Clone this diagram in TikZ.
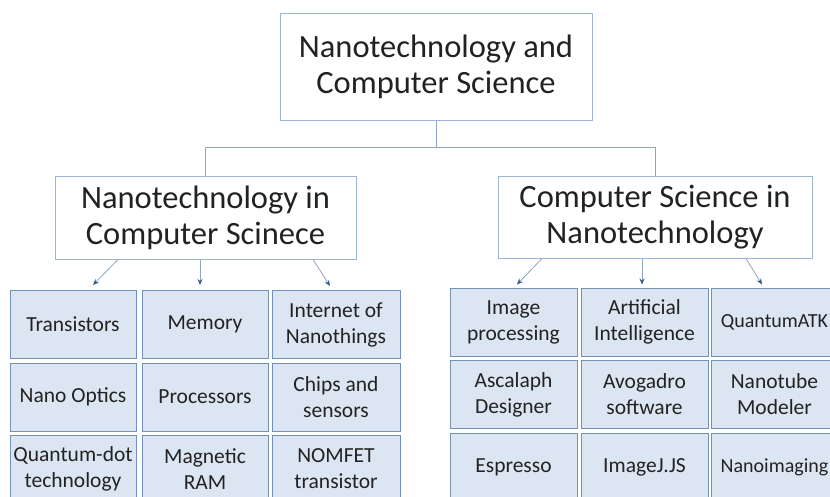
\documentclass[tikz,border=0pt]{standalone}
\usepackage{fontspec}
\setmainfont{Carlito}
\usetikzlibrary{arrows.meta,positioning}

\definecolor{cellfill}{HTML}{DCE6F2}
\definecolor{celledge}{HTML}{7391B5}
\definecolor{headedge}{HTML}{9CB6D4}
\definecolor{linkgray}{HTML}{8FA5BF}
\definecolor{tipblue}{HTML}{2F5F8F}
\definecolor{ink}{HTML}{222222}

\tikzset{
  heading/.style={draw=headedge, line width=1pt, fill=white, text=ink, align=center,
    font=\fontsize{32.5}{36}\selectfont, inner sep=0pt},
  cell/.style={draw=celledge, line width=1pt, fill=cellfill, text=ink, align=center,
    font=\fontsize{21.5}{26}\selectfont, inner sep=0pt, minimum width=126pt, minimum height=68pt},
  edgecell/.style={cell, minimum width=127pt, font=\fontsize{20}{26}\selectfont},
  link/.style={draw=linkgray, line width=1pt},
  feed/.style={draw=linkgray, line width=0.8pt, -{Stealth[length=6pt,width=5pt,color=tipblue]}}
}

\begin{document}
\begin{tikzpicture}[x=1pt,y=-1pt]

	\useasboundingbox (0,0) rectangle (830,496);
	\clip (0,0) rectangle (830,496);
	\fill[white] (0,0) rectangle (830,496);

	% Headings
	\node[heading, minimum width=312pt, minimum height=107pt] (top) at (436,66.5) {Nanotechnology and\\Computer Science};
	\node[heading, minimum width=301pt, minimum height=83pt] (lhead) at (205.5,217.5) {Nanotechnology in\\Computer Scinece};
	\node[heading, minimum width=314pt, minimum height=82pt] (rhead) at (655,217) {Computer Science in\\Nanotechnology};

	% Tree lines
	\draw[link] (top.south) -- ++(0,27) coordinate (fork) -| (lhead.north);
	\draw[link] (fork) -| (rhead.north);

	% Left block
	\node[cell] (l11) at (73,324.5) {Transistors};
	\node[cell] (l12) at (205,324.5) {Memory};
	\node[cell, minimum width=128pt] (l13) at (336,324.5) {Internet of\\Nanothings};
	\node[cell] (l21) at (73,397) {Nano Optics};
	\node[cell] (l22) at (205,397) {Processors};
	\node[cell, minimum width=128pt] (l23) at (336,397) {Chips and\\sensors};
	\node[cell] (l31) at (73,469) {Quantum-dot\\technology};
	\node[cell] (l32) at (205,469) {Magnetic\\RAM};
	\node[cell, minimum width=128pt] (l33) at (336,469) {NOMFET\\transistor};

	% Right block (last column runs off the edge)
	\node[cell, minimum width=127pt] (r11) at (513.5,322) {Image\\processing};
	\node[cell, minimum width=127pt] (r12) at (644.5,322) {Artificial\\Intelligence};
	\node[edgecell] (r13) at (774.5,322) {QuantumATK};
	\node[cell, minimum width=127pt] (r21) at (513.5,394.5) {Ascalaph\\Designer};
	\node[cell, minimum width=127pt] (r22) at (644.5,394.5) {Avogadro\\software};
	\node[edgecell, font=\fontsize{21.5}{26}\selectfont] (r23) at (774.5,394.5) {Nanotube\\Modeler};
	\node[cell, minimum width=127pt] (r31) at (513.5,467) {Espresso};
	\node[cell, minimum width=127pt] (r32) at (644.5,467) {ImageJ.JS};
	\node[edgecell] (r33) at (774.5,467) {Nanoimaging};

	% Arrows down to the blocks
	\draw[feed] ([xshift=-87.5pt]lhead.south) -- ([xshift=20pt,yshift=5pt]l11.north);
	\draw[feed] ([xshift=-5.5pt]lhead.south) -- ([xshift=-5pt,yshift=5pt]l12.north);
	\draw[feed] ([xshift=107.5pt]lhead.south) -- ([xshift=-6pt,yshift=4pt]l13.north);
	\draw[feed] ([xshift=-113pt]rhead.south) -- ([xshift=3.5pt,yshift=3pt]r11.north);
	\draw[feed] ([xshift=-13pt]rhead.south) -- ([xshift=-2.5pt,yshift=3pt]r12.north);
	\draw[feed] ([xshift=91pt]rhead.south) -- ([xshift=-12.5pt,yshift=3pt]r13.north);

\end{tikzpicture}
\end{document}
